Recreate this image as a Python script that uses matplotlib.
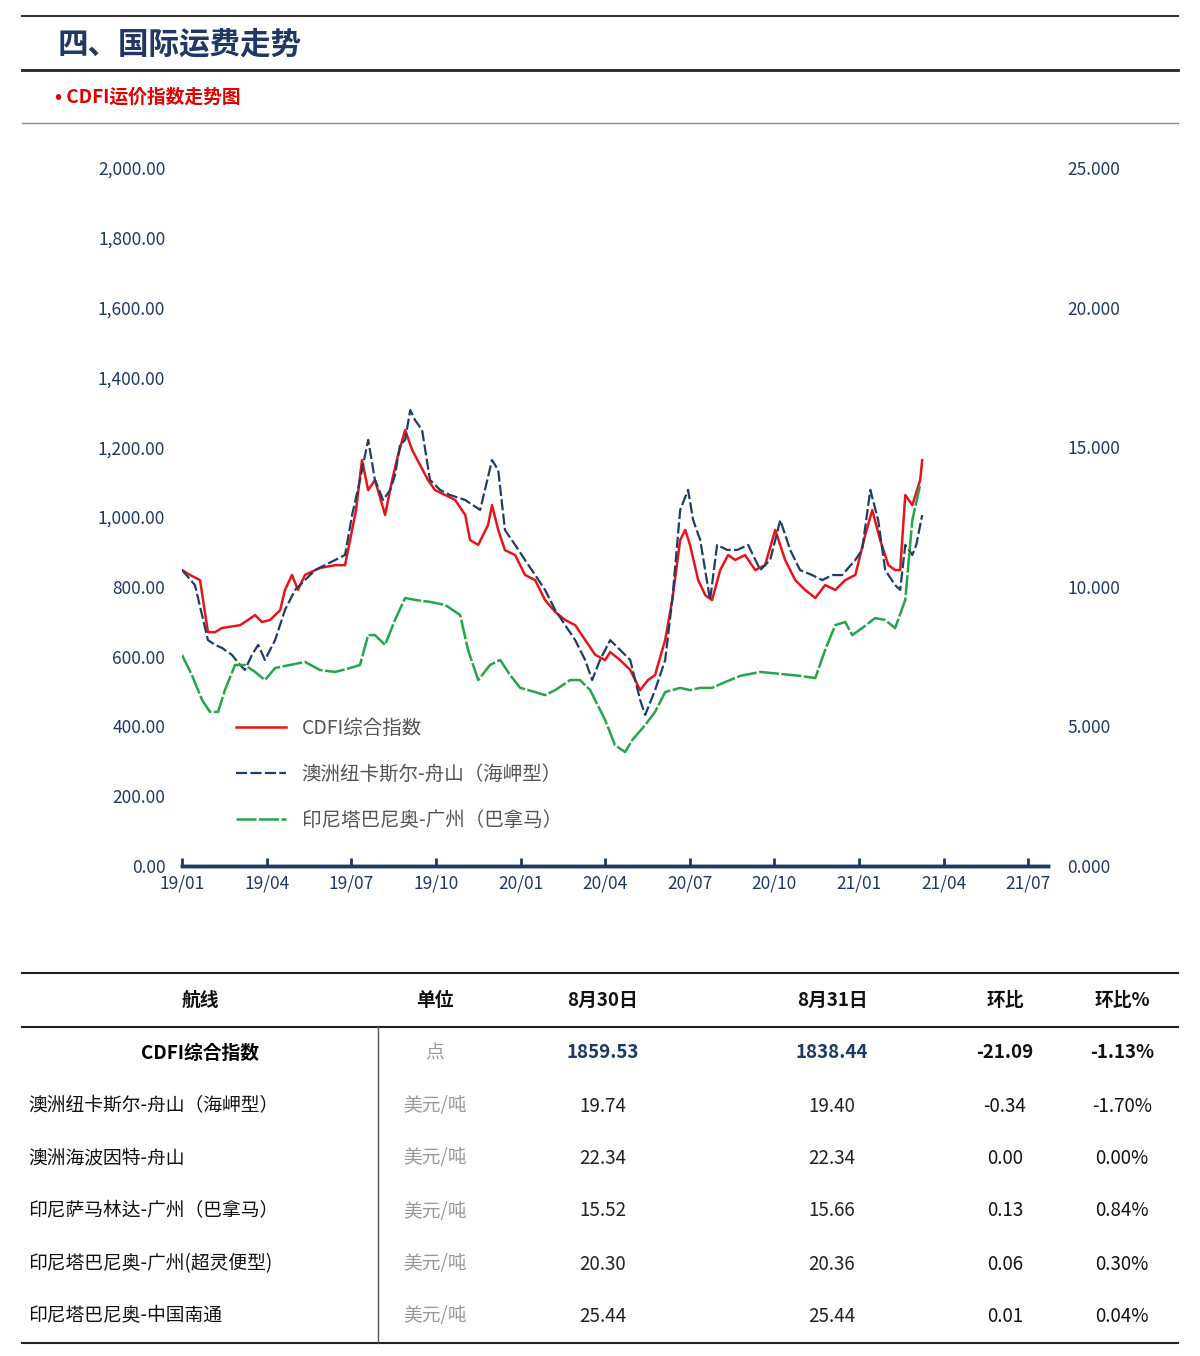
import matplotlib.pyplot as plt
from matplotlib.lines import Line2D
from matplotlib import font_manager

cjk = [f.name for f in font_manager.fontManager.ttflist if 'CJK' in f.name]
plt.rcParams['font.family'] = ['Noto Sans CJK SC', 'Noto Sans CJK JP', 'Noto Sans CJK TC'] + sorted(set(cjk)) + ['DejaVu Sans']
plt.rcParams['axes.unicode_minus'] = False

NAVY = '#1f3864'
TICKC = '#1f3864'

# 时间轴：自 2019/01 起的月数
red_m = [0.0, 0.28, 0.64, 0.92, 1.17, 1.42, 2.06, 2.34, 2.59, 2.84, 3.12, 3.48, 3.65, 3.90, 4.11, 4.36,
         4.89, 5.43, 5.78, 5.96, 6.17, 6.38, 6.60, 6.84, 7.20, 7.45, 7.66, 7.91, 8.16, 8.44, 8.72, 8.97,
         9.33, 9.68, 10.04, 10.21, 10.50, 10.85, 10.99, 11.21, 11.45, 11.81, 12.16, 12.52, 12.87, 13.23,
         13.58, 13.94, 14.29, 14.65, 15.00, 15.18, 15.53, 15.89, 16.24, 16.52, 16.77, 17.13, 17.38, 17.66,
         17.84, 18.01, 18.30, 18.55, 18.79, 19.08, 19.36, 19.61, 19.96, 20.32, 20.67, 21.03, 21.38, 21.74,
         22.09, 22.45, 22.80, 23.16, 23.51, 23.87, 24.22, 24.47, 24.75, 25.04, 25.28, 25.46, 25.64, 25.89,
         26.17, 26.24]
red_v = [848, 834, 819, 670, 670, 682, 690, 705, 719, 699, 705, 733, 791, 834, 791, 834,
         854, 862, 862, 934, 1020, 1163, 1077, 1106, 1006, 1106, 1178, 1249, 1192, 1149, 1106, 1077,
         1063, 1049, 1006, 934, 920, 977, 1034, 963, 905, 891, 834, 819, 762, 728,
         705, 690, 648, 605, 590, 613, 590, 562, 504, 533, 547, 648, 762, 934,
         963, 920, 819, 776, 762, 848, 891, 877, 891, 848, 862, 963, 877, 819,
         791, 768, 805, 791, 819, 834, 948, 1020, 934, 862, 848, 848, 1063, 1034,
         1106, 1163]

blue_m = [0.0, 0.46, 0.92, 1.17, 1.42, 1.77, 2.06, 2.23, 2.48, 2.70, 2.94, 3.30, 3.65, 4.01, 4.36, 4.72,
          5.07, 5.43, 5.78, 6.03, 6.31, 6.60, 6.84, 7.13, 7.38, 7.55, 7.73, 7.91, 8.09, 8.26, 8.51, 8.79,
          9.15, 9.50, 10.04, 10.57, 10.99, 11.21, 11.45, 11.81, 12.16, 12.52, 12.87, 13.23, 13.58, 13.94,
          14.29, 14.54, 14.82, 15.18, 15.53, 15.89, 16.24, 16.42, 16.77, 17.13, 17.38, 17.66, 17.94, 18.12,
          18.37, 18.72, 18.97, 19.33, 19.68, 20.07, 20.50, 20.85, 21.21, 21.56, 21.91, 22.34, 22.70, 23.05,
          23.40, 23.87, 24.11, 24.40, 24.68, 24.93, 25.28, 25.46, 25.64, 25.89, 26.03, 26.24]
blue_v = [10.60, 10.06, 8.09, 7.92, 7.81, 7.56, 7.20, 7.02, 7.56, 7.92, 7.38, 8.09, 9.17, 9.89, 10.24, 10.60,
          10.78, 10.96, 11.14, 12.57, 13.83, 15.26, 13.83, 13.11, 13.47, 14.00, 15.08, 15.26, 16.33, 15.97, 15.62, 13.83,
          13.47, 13.29, 13.11, 12.75, 14.54, 14.18, 12.03, 11.50, 10.96, 10.42, 9.89, 9.17, 8.63, 8.09,
          7.38, 6.66, 7.38, 8.09, 7.74, 7.38, 5.95, 5.41, 6.30, 7.38, 9.53, 12.75, 13.47, 12.39,
          11.68, 9.53, 11.50, 11.32, 11.32, 11.50, 10.60, 10.96, 12.39, 11.32, 10.60, 10.42, 10.24, 10.42,
          10.42, 10.96, 11.32, 13.47, 12.39, 10.60, 10.06, 9.89, 11.50, 11.14, 11.50, 12.57]

green_m = [0.0, 0.35, 0.71, 0.99, 1.28, 1.52, 1.88, 2.23, 2.59, 2.94, 3.30, 3.83, 4.36, 4.89, 5.43, 5.96,
           6.31, 6.60, 6.84, 7.20, 7.55, 7.91, 8.26, 8.79, 9.33, 9.86, 10.14, 10.50, 10.92, 11.28, 11.63, 11.99,
           12.52, 12.87, 13.23, 13.76, 14.11, 14.47, 15.00, 15.35, 15.71, 15.96, 16.42, 16.77, 17.13, 17.66,
           18.01, 18.37, 18.79, 19.26, 19.79, 20.50, 21.21, 21.91, 22.45, 22.80, 23.16, 23.51, 23.76, 24.11,
           24.57, 24.93, 25.28, 25.64, 25.89, 26.17]
green_v = [7.56, 6.84, 5.95, 5.52, 5.52, 6.30, 7.20, 7.20, 6.95, 6.66, 7.09, 7.20, 7.31, 7.02, 6.95, 7.09,
           7.20, 8.27, 8.27, 7.92, 8.81, 9.60, 9.53, 9.46, 9.35, 8.99, 7.74, 6.66, 7.20, 7.38, 6.84, 6.38,
           6.23, 6.12, 6.30, 6.66, 6.66, 6.30, 5.23, 4.33, 4.08, 4.51, 5.05, 5.52, 6.23, 6.38,
           6.30, 6.38, 6.38, 6.59, 6.81, 6.95, 6.88, 6.81, 6.73, 7.74, 8.63, 8.74, 8.27, 8.52,
           8.88, 8.81, 8.52, 9.53, 12.39, 13.65]

x_ticks = [0, 3, 6, 9, 12, 15, 18, 21, 24, 27, 30]
x_labels = ['19/01', '19/04', '19/07', '19/10', '20/01', '20/04', '20/07', '20/10', '21/01', '21/04', '21/07']
left_ticks = [0, 200, 400, 600, 800, 1000, 1200, 1400, 1600, 1800, 2000]
right_ticks = [0, 5, 10, 15, 20, 25]

# 表格
col_heads = ['航线', '单位', '8月30日', '8月31日', '环比', '环比%']
routes = ['CDFI综合指数', '澳洲纽卡斯尔-舟山（海岬型）', '澳洲海波因特-舟山', '印尼萨马林达-广州（巴拿马）',
          '印尼塔巴尼奥-广州(超灵便型)', '印尼塔巴尼奥-中国南通']
units = ['点', '美元/吨', '美元/吨', '美元/吨', '美元/吨', '美元/吨']
val_0830 = ['1859.53', '19.74', '22.34', '15.52', '20.30', '25.44']
val_0831 = ['1838.44', '19.40', '22.34', '15.66', '20.36', '25.44']
chg = ['-21.09', '-0.34', '0.00', '0.13', '0.06', '0.01']
chg_pct = ['-1.13%', '-1.70%', '0.00%', '0.84%', '0.30%', '0.04%']

W, H = 1200, 1356
fig = plt.figure(figsize=(W / 100, H / 100), dpi=100)

def fx(px):
    return px / W

def fy(py):
    return 1 - py / H

# 标题区
fig.add_artist(Line2D([fx(22), fx(1178)], [fy(16), fy(16)], color='#333333', lw=1.5))
fig.add_artist(Line2D([fx(22), fx(1178)], [fy(70), fy(70)], color='#222222', lw=2))
fig.text(fx(58), fy(45), '四、国际运费走势', fontsize=22, fontweight='bold', color=NAVY, va='center')
fig.text(fx(55), fy(97), '• CDFI运价指数走势图', fontsize=13.5, fontweight='bold', color='#e00000', va='center')
fig.add_artist(Line2D([fx(22), fx(1178)], [fy(123), fy(123)], color='#888888', lw=1))

# 图表
ax = fig.add_axes([fx(182), fy(866), fx(1048) - fx(182), (866 - 168) / H])
ax2 = ax.twinx()
ax.set_xlim(0, 30.7)
ax.set_ylim(0, 2000)
ax2.set_ylim(0, 25)

l1, = ax.plot(red_m, red_v, color='#e8141b', lw=1.8, zorder=5)
l2, = ax2.plot(blue_m, blue_v, color='#1f3e64', lw=1.6, dashes=(5, 1.5))
l3, = ax2.plot(green_m, green_v, color='#25a54a', lw=1.8, dashes=(8, 1))

for a in (ax, ax2):
    for s in ('top', 'left', 'right'):
        a.spines[s].set_visible(False)
    a.spines['bottom'].set_color(NAVY)
    a.spines['bottom'].set_linewidth(2.5)

ax.set_xticks(x_ticks)
ax.set_xticklabels(x_labels)
ax.tick_params(axis='x', direction='in', length=6, width=2, color=NAVY, labelsize=12.5,
               labelcolor=TICKC, pad=6)
ax.set_yticks(left_ticks)
ax.set_yticklabels([f'{v:,.2f}' for v in left_ticks])
ax.tick_params(axis='y', length=0, labelsize=12.5, labelcolor=TICKC, pad=12)
ax2.set_yticks(right_ticks)
ax2.set_yticklabels([f'{v:.3f}' for v in right_ticks])
ax2.tick_params(axis='y', length=0, labelsize=12.5, labelcolor=TICKC, pad=14)

leg = ax.legend([l1, l2, l3], ['CDFI综合指数', '澳洲纽卡斯尔-舟山（海岬型）', '印尼塔巴尼奥-广州（巴拿马）'],
                loc='upper left', bbox_to_anchor=(fx(218), fy(700)), bbox_transform=fig.transFigure,
                frameon=False, fontsize=14, labelspacing=1.3, handlelength=2.6)
for t in leg.get_texts():
    t.set_color('#555555')

# 表格
fig.add_artist(Line2D([fx(22), fx(1178)], [fy(973), fy(973)], color='#222222', lw=1.5))
fig.add_artist(Line2D([fx(22), fx(1178)], [fy(1027), fy(1027)], color='#222222', lw=1.5))
fig.add_artist(Line2D([fx(22), fx(1178)], [fy(1343), fy(1343)], color='#222222', lw=1.5))
fig.add_artist(Line2D([fx(378), fx(378)], [fy(1027), fy(1343)], color='#555555', lw=1))

col_x = [200, 435, 603, 832, 1005, 1122]
for cx, h in zip(col_x, col_heads):
    fig.text(fx(cx), fy(1000), h, fontsize=13.5, fontweight='bold', ha='center', va='center', color='#111111')

row_y = [1053, 1106, 1158, 1211, 1264, 1316]
for i, ry in enumerate(row_y):
    first = i == 0
    if first:
        fig.text(fx(200), fy(ry), routes[i], fontsize=13.5, fontweight='bold', ha='center', va='center')
    else:
        fig.text(fx(28), fy(ry), routes[i], fontsize=13.5, ha='left', va='center', color='#111111')
    fig.text(fx(435), fy(ry), units[i], fontsize=13.5, ha='center', va='center', color='#999999')
    w = 'bold' if first else 'normal'
    vc = NAVY if first else '#222222'
    fig.text(fx(603), fy(ry), val_0830[i], fontsize=13.5, fontweight=w, ha='center', va='center', color=vc)
    fig.text(fx(832), fy(ry), val_0831[i], fontsize=13.5, fontweight=w, ha='center', va='center', color=vc)
    fig.text(fx(1005), fy(ry), chg[i], fontsize=13.5, fontweight=w, ha='center', va='center', color='#111111')
    fig.text(fx(1122), fy(ry), chg_pct[i], fontsize=13.5, fontweight=w, ha='center', va='center', color='#111111')

fig.savefig('out.png', dpi=100)
